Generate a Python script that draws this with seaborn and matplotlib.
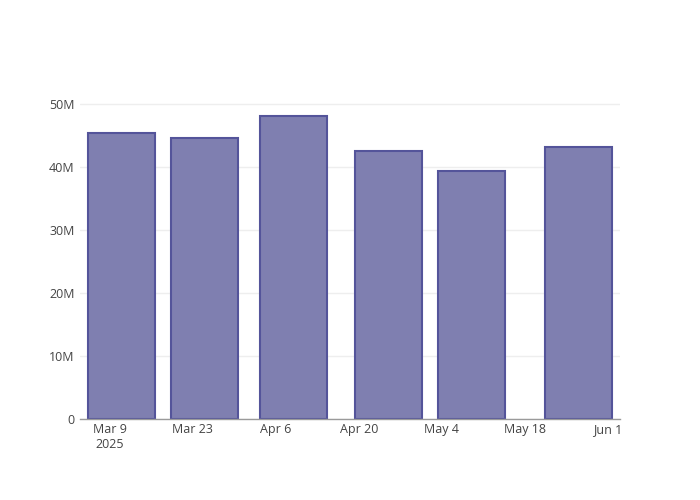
import numpy as np
import pandas as pd
import matplotlib
matplotlib.use('Agg')
import matplotlib.pyplot as plt
import matplotlib.dates as mdates
import matplotlib.ticker as mticker
import seaborn as sns

# bar dates and values
dates = ['2025-03-11', '2025-03-25', '2025-04-09', '2025-04-25', '2025-05-09', '2025-05-27']
values = [45.4e6, 44.5e6, 48.1e6, 42.5e6, 39.3e6, 43.1e6]
tick_dates = ['2025-03-09', '2025-03-23', '2025-04-06', '2025-04-20', '2025-05-04', '2025-05-18', '2025-06-01']
tick_labels = ['Mar 9\n2025', 'Mar 23', 'Apr 6', 'Apr 20', 'May 4', 'May 18', 'Jun 1']

df = pd.DataFrame({'date': mdates.date2num(pd.to_datetime(dates)), 'value': values})

sns.set_theme(style='white')
plt.rcParams['font.family'] = ['Open Sans', 'DejaVu Sans']

fig = plt.figure(figsize=(7, 5), dpi=100)
ax = fig.add_axes([80 / 700, 81 / 500, 540 / 700, 319 / 500])

sns.barplot(data=df, x='date', y='value', native_scale=True, width=0.8,
            color='#7f7fb0', saturation=1, edgecolor='#54549a', linewidth=1.5, ax=ax)

ax.set_xlim(mdates.date2num(pd.Timestamp('2025-03-04')), mdates.date2num(pd.Timestamp('2025-06-03 00:00')))
ax.set_ylim(0, 50.6e6)

ax.set_xticks(mdates.date2num(pd.to_datetime(tick_dates)))
ax.set_xticklabels(tick_labels, ha='center', va='top')
ax.set_yticks(np.arange(0, 50e6 + 1, 10e6))
ax.yaxis.set_major_formatter(mticker.FuncFormatter(lambda v, p: '0' if v == 0 else f'{int(v / 1e6)}M'))

ax.tick_params(axis='both', length=0, labelsize=9, colors='#444444')
ax.tick_params(axis='x', pad=3)
ax.tick_params(axis='y', pad=4)
ax.set_xlabel('')
ax.set_ylabel('')
ax.grid(axis='y', color='#eeeeee', linewidth=1)
ax.set_axisbelow(True)
for s in ['top', 'right', 'left']:
    ax.spines[s].set_visible(False)
ax.spines['bottom'].set_color('#9a9a9a')
ax.spines['bottom'].set_linewidth(1)

fig.savefig('out.png', dpi=100)
